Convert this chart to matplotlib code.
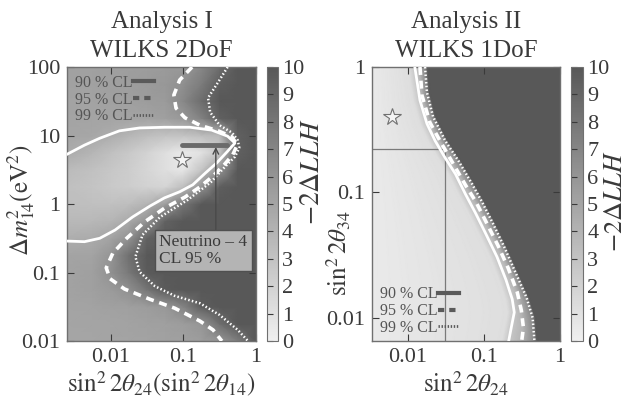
import numpy as np
import matplotlib
matplotlib.use("Agg")
import matplotlib.pyplot as plt
from matplotlib.colors import LinearSegmentedColormap, Normalize
from matplotlib.lines import Line2D
from matplotlib.ticker import NullLocator

plt.rcParams["font.family"] = ["Liberation Serif", "DejaVu Serif"]
plt.rcParams["mathtext.fontset"] = "stix"

INK = "#3a3a3a"
FRAME = "#707070"
MARK = "#5a5a5a"
cmap = LinearSegmentedColormap.from_list("llh_gray", ["#f0f0f0", "#585858"])
norm = Normalize(vmin=0, vmax=10)

# ---------------- Analysis I (2 DoF) ----------------
A1_XLIM = (10 ** -2.6, 1.0)
A1_YLIM = (0.01, 100.0)

# -2dLLH on log10 nodes: columns = sin^2 2theta_24, rows = dm^2_14 (bottom -> top)
a1_logx = [-2.6, -2.25, -2.0, -1.75, -1.5, -1.25, -1.0, -0.75, -0.5, -0.25, 0.0]
a1_logdm2 = [-2.0, -1.75, -1.5, -1.25, -1.0, -0.75, -0.5, -0.25, 0.0,
             0.25, 0.5, 0.75, 1.0, 1.25, 1.5, 1.75, 2.0]
a1_llh = [
    [4.9, 4.9, 5.0, 5.0, 5.1, 5.2, 5.3, 5.5, 5.9, 7.5, 10],
    [4.9, 5.0, 5.0, 5.1, 5.2, 5.3, 5.5, 5.9, 8.5, 10, 10],
    [5.0, 5.1, 5.2, 5.3, 5.5, 5.8, 7.0, 9.6, 10, 10, 10],
    [5.1, 5.3, 5.6, 6.3, 8.0, 9.8, 10, 10, 10, 10, 10],
    [5.1, 5.3, 6.2, 7.8, 9.8, 10, 10, 10, 10, 10, 10],
    [5.0, 5.1, 6.0, 8.4, 9.9, 10, 10, 10, 10, 10, 10],
    [4.3, 4.5, 5.0, 6.1, 9.3, 10, 10, 10, 10, 10, 10],
    [3.6, 3.7, 3.9, 4.6, 6.1, 9.3, 10, 10, 10, 10, 10],
    [3.3, 3.2, 3.1, 3.3, 4.0, 5.4, 8.0, 10, 10, 10, 10],
    [3.2, 2.9, 2.6, 2.3, 2.0, 1.8, 3.3, 6.1, 9.6, 10, 10],
    [3.5, 3.1, 2.7, 2.3, 1.7, 1.1, 0.6, 2.9, 6.0, 10, 10],
    [4.5, 3.8, 3.2, 2.6, 1.9, 1.1, 0.4, 0.9, 2.8, 9.4, 10],
    [4.9, 4.8, 4.4, 3.8, 3.3, 3.0, 2.9, 3.3, 3.6, 9.4, 10],
    [5.0, 5.0, 5.0, 5.0, 5.1, 5.3, 5.8, 7.2, 9.4, 10, 10],
    [5.1, 5.1, 5.2, 5.3, 5.5, 5.6, 6.8, 8.6, 10, 10, 10],
    [5.2, 5.2, 5.3, 5.4, 5.6, 5.8, 6.3, 7.6, 9.5, 10, 10],
    [5.2, 5.2, 5.3, 5.4, 5.5, 5.6, 5.8, 6.8, 8.6, 10, 10],
]

# confidence-level contours (sin^2 2theta, dm^2)
a1_cl90_x = [0.00245, 0.00437, 0.00708, 0.0132, 0.0251, 0.055, 0.123, 0.245, 0.407, 0.513,
             0.398, 0.288, 0.200, 0.135, 0.0891, 0.055, 0.0347, 0.020, 0.0115, 0.00708,
             0.00437, 0.00245]
a1_cl90_y = [5.25, 7.24, 9.12, 11.7, 12.9, 13.2, 13.2, 12.0, 9.77, 7.76,
             5.75, 3.98, 2.82, 1.91, 1.51, 1.23, 0.933, 0.646, 0.417, 0.316,
             0.282, 0.288]
a1_cl95_x = [0.132, 0.0891, 0.0741, 0.0794, 0.105, 0.170, 0.302, 0.468, 0.550, 0.479,
             0.363, 0.257, 0.170, 0.105, 0.055, 0.0295, 0.0166, 0.0107, 0.0087, 0.0098,
             0.0155, 0.0347, 0.0759, 0.170, 0.257, 0.339]
a1_cl95_y = [100, 64.6, 38.9, 25.1, 18.2, 14.1, 11.7, 9.55, 7.24, 5.25,
             3.72, 2.57, 1.78, 1.26, 0.871, 0.550, 0.316, 0.191, 0.117, 0.0813,
             0.0575, 0.0407, 0.0302, 0.0195, 0.0145, 0.0100]
a1_cl99_x = [0.407, 0.302, 0.219, 0.234, 0.316, 0.468, 0.562, 0.589, 0.513, 0.372,
             0.240, 0.115, 0.0479, 0.0275, 0.0219, 0.0251, 0.0407, 0.0759, 0.170, 0.316,
             0.562, 0.776]
a1_cl99_y = [100, 60.3, 35.5, 21.9, 14.1, 11.0, 8.51, 6.61, 4.90, 3.47,
             2.09, 1.15, 0.646, 0.355, 0.170, 0.102, 0.0631, 0.0457, 0.0355, 0.0240,
             0.0145, 0.0100]

a1_best = (0.095, 4.4)
n4_sin2 = (0.095, 0.40)    # Neutrino-4 allowed range
n4_dm2 = 7.3
n4_arrow_x = 0.28

# ---------------- Analysis II (1 DoF) ----------------
A2_XLIM = (0.0034, 1.0)
A2_YLIM = (0.0065, 1.0)

a2_cl90_x = [0.0124, 0.0132, 0.0145, 0.0179, 0.0229, 0.0311, 0.0424, 0.0575, 0.0782,
             0.106, 0.149, 0.196, 0.236, 0.251, 0.229, 0.209]
a2_cl90_y = [1.0, 0.785, 0.542, 0.353, 0.258, 0.188, 0.140, 0.0964, 0.0678,
             0.0467, 0.0305, 0.0199, 0.0140, 0.0110, 0.0083, 0.0062]
a2_cl95_x = [0.0145, 0.0154, 0.0196, 0.0275, 0.0398, 0.0575, 0.0782, 0.110, 0.154,
             0.209, 0.275, 0.311, 0.331, 0.311]
a2_cl95_y = [1.0, 0.594, 0.360, 0.248, 0.168, 0.114, 0.0845, 0.0562, 0.0374,
             0.0248, 0.0159, 0.0114, 0.0083, 0.0062]
a2_cl99_x = [0.0169, 0.0179, 0.0215, 0.0311, 0.0465, 0.0692, 0.094, 0.132, 0.185,
             0.259, 0.363, 0.437, 0.465]
a2_cl99_y = [1.0, 0.628, 0.403, 0.258, 0.178, 0.118, 0.0845, 0.0562, 0.0367,
             0.0231, 0.0145, 0.0100, 0.0062]

a2_llh_edge = 0.4      # far inside the allowed region
a2_llh_rim = 1.2       # just inside the 90 % line
a2_best = (0.0063, 0.40)
a2_cross = (0.031, 0.22)

LEVELS_2DOF = [4.61, 5.99, 9.21]
LEVELS_1DOF = [2.71, 3.84, 6.63]


def a2_field(nx=320, ny=320):
    gx = np.linspace(np.log10(A2_XLIM[0]), 0.0, nx)
    gy = np.linspace(np.log10(A2_YLIM[0]), 0.0, ny)
    z = np.empty((ny, nx))
    lines = [(a2_cl90_x, a2_cl90_y), (a2_cl95_x, a2_cl95_y), (a2_cl99_x, a2_cl99_y)]
    for i, ly in enumerate(gy):
        k = [np.interp(ly, np.log10(yy[::-1]), np.log10(xx[::-1])) for xx, yy in lines]
        knots_x = [gx[0], k[0] - 0.08, k[0], k[1], k[2], k[2] + 0.04]
        knots_v = [a2_llh_edge, a2_llh_rim] + LEVELS_1DOF + [10.0]
        z[i] = np.interp(gx, knots_x, knots_v)
    return 10 ** gx, 10 ** gy, z


def style_axes(ax, xlim, ylim, yticks):
    ax.set_xscale("log")
    ax.set_yscale("log")
    ax.set_xlim(*xlim)
    ax.set_ylim(*ylim)
    ax.set_xticks([0.01, 0.1, 1], labels=["0.01", "0.1", "1"])
    ax.set_yticks(yticks, labels=[f"{t:g}" for t in yticks])
    ax.xaxis.set_minor_locator(NullLocator())
    ax.yaxis.set_minor_locator(NullLocator())
    ax.tick_params(direction="in", top=True, right=True, length=5, width=0.8,
                   labelsize=16, colors=INK, pad=5)
    for sp in ax.spines.values():
        sp.set_color(FRAME)
        sp.set_linewidth(1.0)


def draw_cls(ax, lines):
    styles = [dict(ls="-", lw=2.0),
              dict(ls=(0, (2.2, 1.6)), lw=2.6),
              dict(ls=(0, (0.6, 0.9)), lw=1.8)]
    for (x, y), st in zip(lines, styles):
        ax.plot(x, y, color="white", solid_capstyle="round", zorder=3, **st)


def cl_legend(ax, loc, anchor):
    handles = [Line2D([], [], color=MARK, lw=3.0),
               Line2D([], [], color=MARK, lw=3.0, ls=(0, (1.5, 1.2))),
               Line2D([], [], color=MARK, lw=2.0, ls=(0, (0.5, 0.6)))]
    ax.legend(handles, ["90 % CL", "95 % CL", "99 % CL"], loc=loc, bbox_to_anchor=anchor,
              frameon=False, markerfirst=False, fontsize=11.5, labelcolor="#555555",
              handlelength=1.3, handletextpad=0.0, labelspacing=0.05, borderaxespad=0.0)


def add_colorbar(fig, mappable, rect, label_xy, label_size=20):
    cax = fig.add_axes(rect)
    cb = fig.colorbar(mappable, cax=cax, ticks=range(11))
    cb.outline.set_edgecolor(FRAME)
    cax.tick_params(direction="in", left=True, right=False, labelleft=False,
                    labelright=True, length=4, width=0.8, labelsize=16,
                    colors=INK, pad=3)
    cb.set_label(r"$-2\Delta LLH$", fontsize=label_size, color=INK)
    cax.yaxis.set_label_coords(*label_xy)
    return cb


fig = plt.figure(figsize=(6.27, 4.04), dpi=100)

# ---- left panel ----
ax1 = fig.add_axes([0.1069, 0.1559, 0.3014, 0.6782])
m1 = ax1.pcolormesh(10 ** np.array(a1_logx), 10 ** np.array(a1_logdm2), np.array(a1_llh),
                    shading="gouraud", cmap=cmap, norm=norm, zorder=1)
draw_cls(ax1, [(a1_cl90_x, a1_cl90_y), (a1_cl95_x, a1_cl95_y), (a1_cl99_x, a1_cl99_y)])
ax1.plot(n4_sin2, [n4_dm2, n4_dm2], color="#6a6a6a", lw=3.5, solid_capstyle="round", zorder=4)
ax1.annotate("", xy=(n4_arrow_x, n4_dm2 * 0.93), xytext=(n4_arrow_x, 0.39),
             arrowprops=dict(arrowstyle="->", color="#4a4a4a", lw=1.0,
                             shrinkA=0, shrinkB=0), zorder=4)
ax1.text(0.047, 0.21, "Neutrino – 4\nCL 95 %", fontsize=12.5, color=INK,
         ha="left", va="center", linespacing=1.05, zorder=5,
         bbox=dict(boxstyle="square,pad=0.25", fc="#b4b4b4", ec="#505050", lw=1.0))
ax1.plot(*a1_best, marker="*", ms=13, mfc="#f4f4f4", mec="#707070", mew=0.8, zorder=5)
style_axes(ax1, A1_XLIM, A1_YLIM, [0.01, 0.1, 1, 10, 100])
ax1.set_xlabel(r"$\sin^2 2\theta_{24}(\sin^2 2\theta_{14})$", fontsize=18, color=INK, labelpad=2)
ax1.set_ylabel(r"$\Delta m^2_{14}(\mathrm{eV}^2)$", fontsize=18, color=INK)
ax1.yaxis.set_label_coords(-0.16, 0.515)
ax1.set_title("Analysis I\nWILKS 2DoF", fontsize=18, color=INK, pad=7, linespacing=1.42)
cl_legend(ax1, "upper left", (0.01, 0.995))
add_colorbar(fig, m1, [0.4258, 0.1559, 0.0175, 0.6782], (3.05, 0.62))

# ---- right panel ----
ax2 = fig.add_axes([0.5933, 0.1559, 0.2998, 0.6782])
gx2, gy2, z2 = a2_field()
m2 = ax2.pcolormesh(gx2, gy2, z2, shading="gouraud", cmap=cmap, norm=norm, zorder=1)
draw_cls(ax2, [(a2_cl90_x, a2_cl90_y), (a2_cl95_x, a2_cl95_y), (a2_cl99_x, a2_cl99_y)])
ax2.plot([A2_XLIM[0], a2_cross[0]], [a2_cross[1], a2_cross[1]], color="#7a7a7a", lw=0.9, zorder=2)
ax2.plot([a2_cross[0], a2_cross[0]], [A2_YLIM[0], a2_cross[1]], color="#7a7a7a", lw=0.9, zorder=2)
ax2.plot(*a2_best, marker="*", ms=13, mfc="#f4f4f4", mec="#707070", mew=0.8, zorder=5)
style_axes(ax2, A2_XLIM, A2_YLIM, [0.01, 0.1, 1])
ax2.set_xlabel(r"$\sin^2 2\theta_{24}$", fontsize=18, color=INK, labelpad=2)
ax2.set_ylabel(r"$\sin^2 2\theta_{34}$", fontsize=18, color=INK)
ax2.yaxis.set_label_coords(-0.1, 0.32)
ax2.set_title("Analysis II\nWILKS 1DoF", fontsize=18, color=INK, pad=7, linespacing=1.42)
cl_legend(ax2, "lower left", (0.01, -0.005))
add_colorbar(fig, m2, [0.9107, 0.1559, 0.0191, 0.6782], (2.85, 0.51), label_size=19)

fig.savefig("out.png", dpi=100)
